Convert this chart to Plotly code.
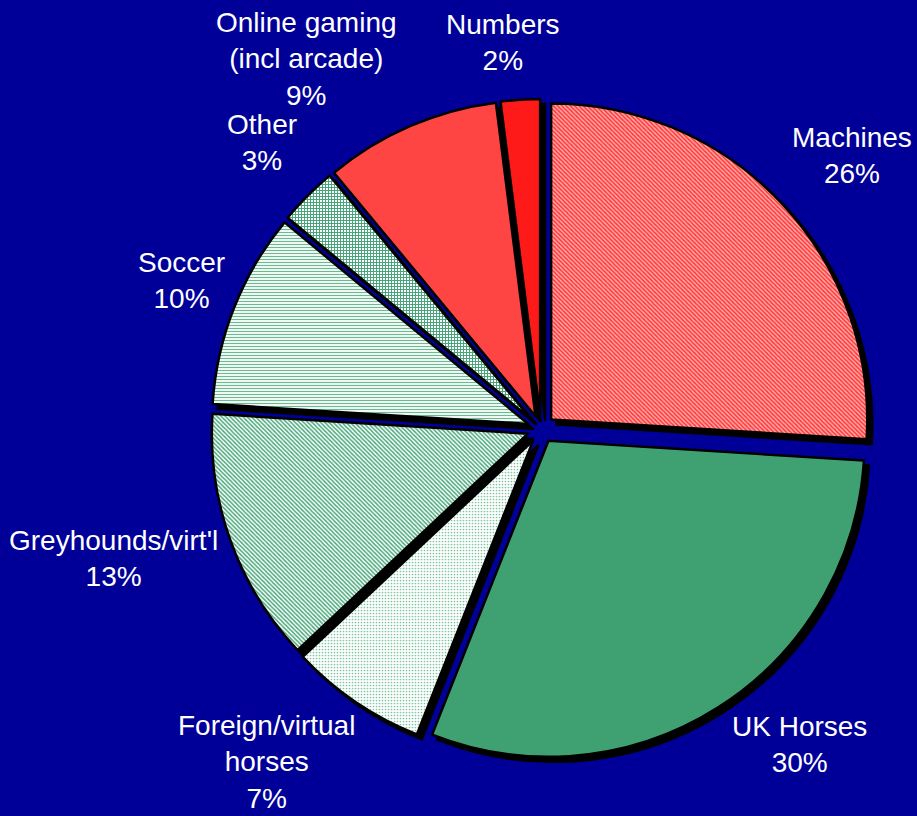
import math
import plotly.graph_objects as go

# Share of gross win by product
categories = ["Machines", "UK Horses", "Foreign/virtual<br>horses", "Greyhounds/virt'l",
              "Soccer", "Other", "Online gaming<br>(incl arcade)", "Numbers"]
shares = [26, 30, 7, 13, 10, 3, 9, 2]

# Slice fills: base colour, hatch colour, hatch shape
fill_bg = ["#ff3a3a", "#3fa072", "#ffffff", "#ffffff", "#ffffff", "#ffffff", "#ff4444", "#ff1a1a"]
fill_fg = ["#ffb4b4", "#3fa072", "#7cc4a0", "#4aa87c", "#6abb93", "#45a578", "#ff4444", "#ff1a1a"]
fill_shape = ["\\", "", ".", "\\", "-", "+", "", ""]
fill_solid = [0.45, 0.3, 0.25, 0.5, 0.4, 0.55, 0.3, 0.3]

W, H = 917, 816
CX, CY = 541, 429          # pie centre, pixels from top-left
HALF = 330                 # half of the pie box, pixels
PULL = 0.044
SHADOW = 5                 # shadow offset, pixels

# label placement: radial distance (px) and angular nudge (deg) per slice
label_dist = [414, 408, 432, 447, 389, 400, 438, 388]
label_nudge = [1.9, -6.9, 5.3, 3.0, 0.9, 0.8, -8.9, -2.0]


def dom(cx, cy):
    return dict(x=[(cx - HALF) / W, (cx + HALF) / W],
                y=[1 - (cy + HALF) / H, 1 - (cy - HALF) / H])


fig = go.Figure()

# drop shadow
fig.add_trace(go.Pie(
    labels=categories, values=shares, sort=False, direction="clockwise", rotation=0,
    pull=[PULL] * len(shares), textinfo="none", hoverinfo="skip", showlegend=False,
    marker=dict(colors=["#000000"] * len(shares), line=dict(color="#000000", width=2.5)),
    domain=dom(CX + SHADOW, CY + SHADOW),
))

# main pie
fig.add_trace(go.Pie(
    labels=categories, values=shares, sort=False, direction="clockwise", rotation=0,
    pull=[PULL] * len(shares), textinfo="none", showlegend=False,
    marker=dict(
        colors=fill_bg,
        line=dict(color="#000000", width=2.5),
        pattern=dict(shape=fill_shape, fgcolor=fill_fg, bgcolor=fill_bg,
                     size=3, solidity=fill_solid, fillmode="replace"),
    ),
    domain=dom(CX, CY),
))

# outside labels with category and percent
total = sum(shares)
cum = 0
for i, (lab, v) in enumerate(zip(categories, shares)):
    mid = (cum + v / 2) / total * 360 + label_nudge[i]
    cum += v
    a = math.radians(mid)
    px = CX + label_dist[i] * math.sin(a)
    py = CY - label_dist[i] * math.cos(a)
    fig.add_annotation(
        x=px / W, y=1 - py / H, xref="paper", yref="paper",
        text=f"{lab}<br>{round(v / total * 100)}%", showarrow=False,
        xanchor="center", yanchor="middle", align="center",
        font=dict(family="Liberation Sans, Arial, sans-serif", size=28, color="#ffffff"),
    )

fig.update_layout(
    width=W, height=H, margin=dict(l=0, r=0, t=0, b=0),
    paper_bgcolor="#000099", plot_bgcolor="#000099",
)

fig.write_html("out.html")
